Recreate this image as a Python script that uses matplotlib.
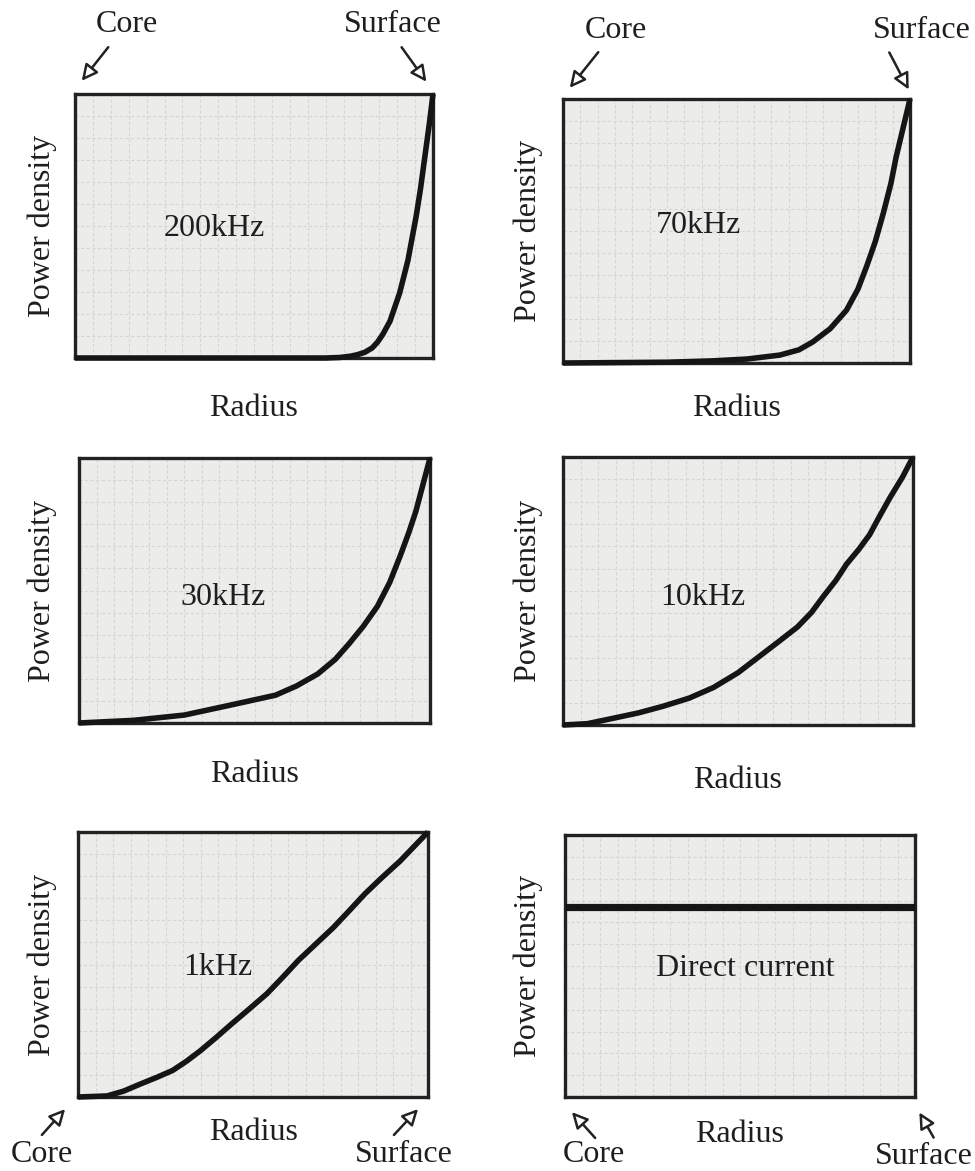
import matplotlib.pyplot as plt

plt.rcParams['font.family'] = ['Liberation Serif', 'DejaVu Serif']

# radius (core=0 .. surface=1) vs relative power density
r_200k = [0, 0.70, 0.74, 0.77, 0.79, 0.81, 0.83, 0.845, 0.86, 0.88, 0.907,
          0.93, 0.953, 0.965, 0.98, 0.99, 1.0]
p_200k = [0, 0, 0.002, 0.007, 0.013, 0.022, 0.038, 0.06, 0.09, 0.14, 0.247,
          0.37, 0.537, 0.64, 0.79, 0.89, 1.0]

r_70k = [0, 0.3, 0.43, 0.53, 0.625, 0.68, 0.72, 0.77, 0.817, 0.85, 0.875,
         0.90, 0.923, 0.945, 0.96, 0.98, 1.0]
p_70k = [0, 0.003, 0.008, 0.015, 0.03, 0.05, 0.08, 0.13, 0.20, 0.28, 0.366,
         0.46, 0.567, 0.68, 0.78, 0.89, 1.0]

r_30k = [0, 0.155, 0.30, 0.44, 0.56, 0.62, 0.68, 0.73, 0.77, 0.81, 0.85,
         0.885, 0.915, 0.94, 0.96, 0.98, 1.0]
p_30k = [0, 0.01, 0.03, 0.07, 0.105, 0.14, 0.185, 0.24, 0.30, 0.365, 0.44,
         0.53, 0.63, 0.72, 0.80, 0.90, 1.0]

r_10k = [0, 0.07, 0.143, 0.215, 0.286, 0.36, 0.43, 0.50, 0.57, 0.62, 0.67,
         0.71, 0.744, 0.78, 0.81, 0.845, 0.876, 0.905, 0.935, 0.97, 1.0]
p_10k = [0, 0.005, 0.025, 0.045, 0.07, 0.10, 0.14, 0.195, 0.265, 0.315, 0.366,
         0.42, 0.48, 0.54, 0.6, 0.655, 0.71, 0.78, 0.85, 0.925, 1.0]

r_1k = [0, 0.083, 0.13, 0.18, 0.225, 0.27, 0.31, 0.35, 0.395, 0.44, 0.49,
        0.54, 0.585, 0.63, 0.68, 0.73, 0.775, 0.82, 0.87, 0.92, 0.96, 1.0]
p_1k = [0, 0.004, 0.022, 0.05, 0.074, 0.10, 0.135, 0.175, 0.225, 0.277, 0.333,
        0.39, 0.452, 0.516, 0.578, 0.64, 0.703, 0.767, 0.83, 0.89, 0.945, 1.0]

r_dc = [0, 1]
p_dc = [0.725, 0.725]

labels = ['200kHz', '70kHz', '30kHz', '10kHz', '1kHz', 'Direct current']
radii = [r_200k, r_70k, r_30k, r_10k, r_1k, r_dc]
powers = [p_200k, p_70k, p_30k, p_10k, p_1k, p_dc]

W, H = 975, 1171
fig = plt.figure(figsize=(W / 100, H / 100), dpi=100)

# panel boxes in image pixels: left, top, right, bottom
boxes = [(75, 94, 433, 358), (563, 99, 910, 363),
         (79, 458, 430, 723), (563, 457, 913, 725),
         (78, 832, 428, 1097), (565, 835, 915, 1097)]
label_pos = [(0.39, 0.49), (0.39, 0.52), (0.41, 0.475),
             (0.40, 0.474), (0.40, 0.487), (0.514, 0.49)]
radius_y = [408, 408, 775, 780, 1133, 1135]
ylab_x = [42, 528, 42, 528, 42, 528]

fs = 23
ink = '#1e1e1e'
axes = []
for i, (l, t, r, b) in enumerate(boxes):
    ax = fig.add_axes([l / W, 1 - b / H, (r - l) / W, (b - t) / H])
    ax.set_facecolor('#ececea')
    ax.set_xlim(0, 1)
    ax.set_ylim(0, 1)
    ax.set_xticks([k / 20 for k in range(1, 20)])
    ax.set_yticks([k / 12 for k in range(1, 12)])
    ax.grid(True, color='#d6d6d4', lw=0.8, ls=(0, (3, 2)))
    ax.tick_params(length=0, labelbottom=False, labelleft=False)
    for s in ax.spines.values():
        s.set_linewidth(2.4)
        s.set_color('#222222')
    lw = 5.2 if i == 5 else 4
    ax.plot(radii[i], powers[i], color='#151515', lw=lw,
            solid_capstyle='butt', solid_joinstyle='round', clip_on=False, zorder=5)
    ax.text(label_pos[i][0], label_pos[i][1], labels[i], transform=ax.transAxes,
            ha='center', va='center', fontsize=fs, color=ink)
    xc = (l + r) / 2
    fig.text(xc / W, 1 - radius_y[i] / H, 'Radius', ha='center', va='center',
             fontsize=fs, color=ink)
    fig.text(ylab_x[i] / W, 1 - (t + b) / 2 / H, 'Power density', rotation=90,
             ha='center', va='center', fontsize=fs, color=ink)
    axes.append(ax)

# Core / Surface markers: (text x, text y, arrow tail, arrow head) in image pixels
markers = [
    ('Core', 127, 24, (110, 45), (80, 83)),
    ('Surface', 393, 24, (400, 45), (428, 84)),
    ('Core', 616, 30, (600, 50), (568, 90)),
    ('Surface', 922, 30, (888, 50), (910, 92)),
    ('Core', 42, 1155, (40, 1137), (67, 1107)),
    ('Surface', 404, 1155, (392, 1137), (420, 1107)),
    ('Core', 594, 1155, (597, 1140), (570, 1110)),
    ('Surface', 924, 1157, (935, 1140), (918, 1110)),
]
for txt, tx, ty, tail, head in markers:
    fig.text(tx / W, 1 - ty / H, txt, ha='center', va='center',
             fontsize=fs, color=ink)
    axes[0].annotate('', xy=(head[0], H - head[1]), xycoords='figure pixels',
                     xytext=(tail[0], H - tail[1]), textcoords='figure pixels',
                     annotation_clip=False,
                     arrowprops=dict(arrowstyle='-|>', fc='white', ec='#222222',
                                     lw=1.8, mutation_scale=24))

fig.savefig('out.png', dpi=100, facecolor='white')
